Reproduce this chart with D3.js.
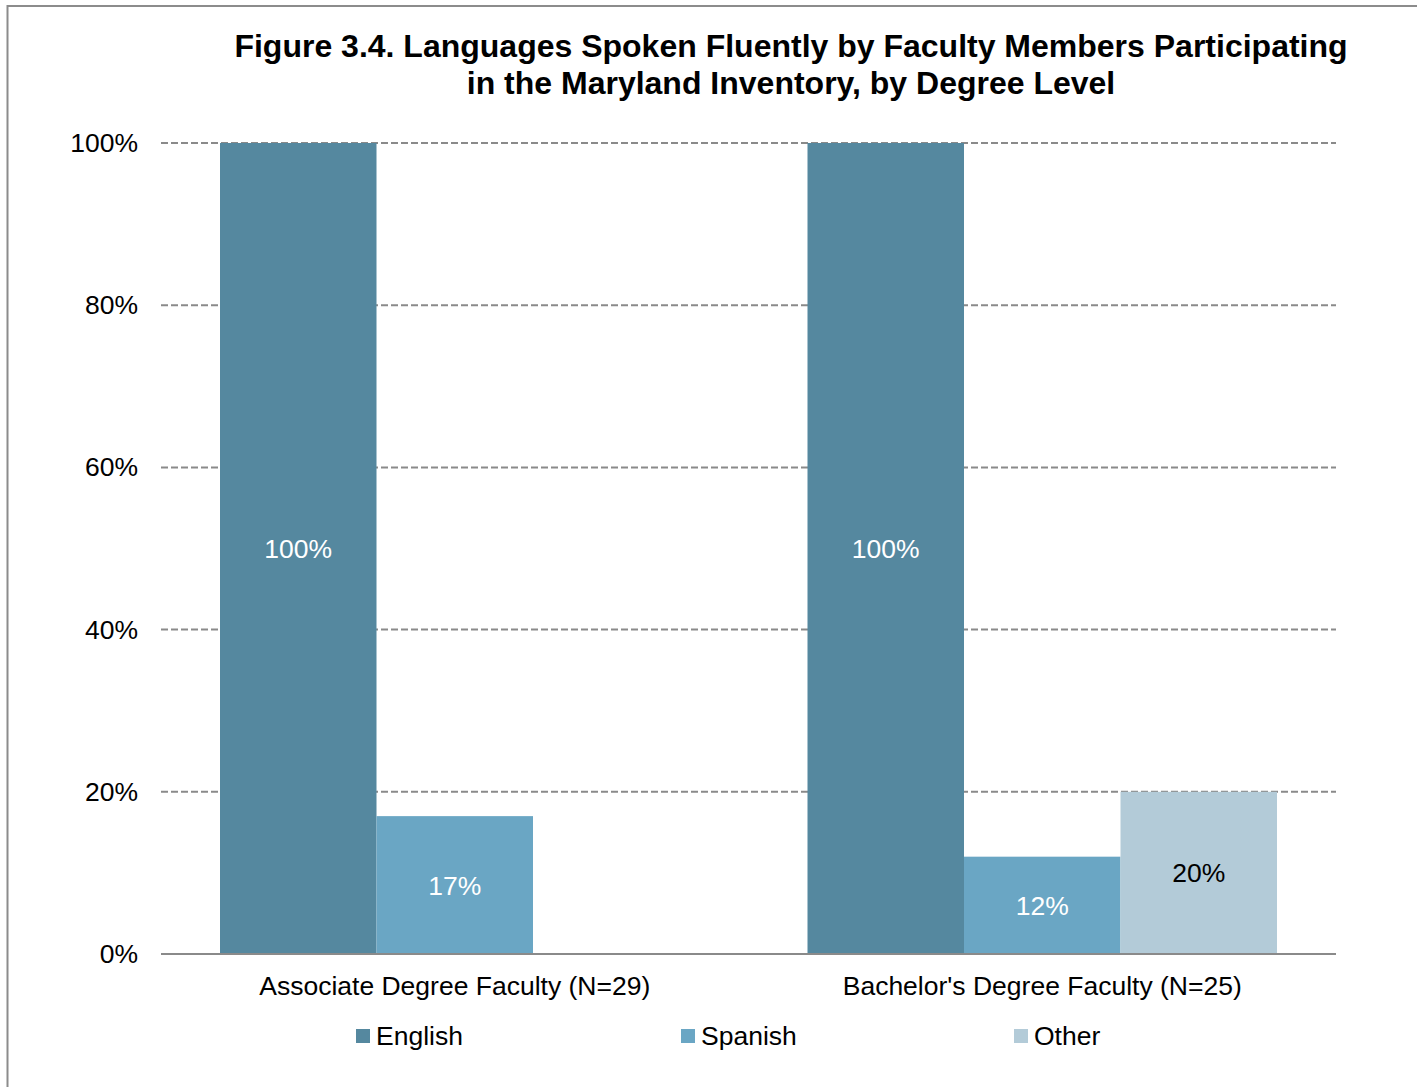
<!DOCTYPE html>
<html>
<head>
<meta charset="utf-8">
<script src="https://cdn.jsdelivr.net/npm/d3@7"></script>
<style>
  html, body { margin: 0; padding: 0; background: #fff; }
  svg { display: block; font-family: "Liberation Sans", Arial, sans-serif; }
</style>
</head>
<body>
<svg id="chart" width="1417" height="1087"></svg>
<script>
// Share of faculty speaking each language fluently, by degree level
const categories = ["Associate Degree Faculty (N=29)", "Bachelor's Degree Faculty (N=25)"];
const languages = ["English", "Spanish", "Other"];
const english = [100, 100];
const spanish = [17, 12];
const other = [null, 20];
const yTicks = [0, 20, 40, 60, 80, 100];
const colors = ["#55889f", "#6aa6c4", "#b3cbd8"];
const labelColors = ["#ffffff", "#ffffff", "#000000"];

const seriesValues = [english, spanish, other];

const svg = d3.select("#chart");
const W = 1417, H = 1087;
const plot = { left: 161, right: 1336, top: 143, bottom: 954 };
const FS = 26.5;

// Outer frame
svg.append("rect")
  .attr("x", 7.5).attr("y", 6)
  .attr("width", W + 10).attr("height", H + 10)
  .attr("fill", "#fff")
  .attr("stroke", "#8c8c8c").attr("stroke-width", 2);

// Title
const title = svg.append("text")
  .attr("text-anchor", "middle")
  .attr("font-weight", "bold")
  .attr("font-size", 32)
  .attr("fill", "#000");
title.append("tspan").attr("x", 791).attr("y", 57)
  .text("Figure 3.4. Languages Spoken Fluently by Faculty Members Participating");
title.append("tspan").attr("x", 791).attr("y", 94)
  .text("in the Maryland Inventory, by Degree Level");

const x0 = d3.scaleBand().domain(categories)
  .range([plot.left, plot.right]).paddingInner(0).paddingOuter(0);
const groupPad = 59;
const x1 = d3.scaleBand().domain(languages)
  .range([groupPad, x0.bandwidth() - groupPad]);
const y = d3.scaleLinear().domain([0, 100]).range([plot.bottom, plot.top]);

// Dashed gridlines
svg.append("g")
  .selectAll("line")
  .data(yTicks.filter(t => t > 0))
  .join("line")
  .attr("x1", plot.left).attr("x2", plot.right)
  .attr("y1", d => y(d)).attr("y2", d => y(d))
  .attr("stroke", "#8a8a8a").attr("stroke-width", 2)
  .attr("stroke-dasharray", "7,3");

// Y axis labels
const yAxis = d3.axisLeft(y).tickValues(yTicks).tickFormat(d => d + "%").tickSize(0).tickPadding(23);
const yG = svg.append("g").attr("transform", `translate(${plot.left},0)`).call(yAxis);
yG.select(".domain").remove();
yG.selectAll("text").attr("font-size", FS).attr("fill", "#000")
  .attr("font-family", "Liberation Sans, Arial, sans-serif");

// Bars
const bars = [];
categories.forEach((c, ci) => {
  languages.forEach((l, li) => {
    const v = seriesValues[li][ci];
    if (v != null) bars.push({ c, l, li, v });
  });
});

svg.append("g").selectAll("rect")
  .data(bars)
  .join("rect")
  .attr("x", d => x0(d.c) + x1(d.l))
  .attr("y", d => y(d.v))
  .attr("width", x1.bandwidth())
  .attr("height", d => y(0) - y(d.v))
  .attr("fill", d => colors[d.li]);

// Value labels, centered in each bar
svg.append("g").selectAll("text")
  .data(bars)
  .join("text")
  .attr("x", d => x0(d.c) + x1(d.l) + x1.bandwidth() / 2)
  .attr("y", d => (y(d.v) + y(0)) / 2)
  .attr("dy", "0.36em")
  .attr("text-anchor", "middle")
  .attr("font-size", FS)
  .attr("fill", d => labelColors[d.li])
  .text(d => d.v + "%");

// Baseline
svg.append("line")
  .attr("x1", plot.left).attr("x2", plot.right)
  .attr("y1", y(0)).attr("y2", y(0))
  .attr("stroke", "#8a8a8a").attr("stroke-width", 2);

// Category labels
const xAxis = d3.axisBottom(x0).tickSize(0).tickPadding(22);
const xG = svg.append("g").attr("transform", `translate(0,${plot.bottom})`).call(xAxis);
xG.select(".domain").remove();
xG.selectAll("text").attr("font-size", FS).attr("fill", "#000")
  .attr("font-family", "Liberation Sans, Arial, sans-serif");

// Legend
const legendX = [356, 681, 1014];
const legend = svg.append("g").selectAll("g")
  .data(languages)
  .join("g")
  .attr("transform", (d, i) => `translate(${legendX[i]},1035)`);
legend.append("rect")
  .attr("x", 0).attr("y", -6).attr("width", 14).attr("height", 14)
  .attr("fill", (d, i) => colors[i]);
legend.append("text")
  .attr("x", 20).attr("dy", "0.36em")
  .attr("font-size", FS).attr("fill", "#000")
  .text(d => d);
</script>
</body>
</html>
